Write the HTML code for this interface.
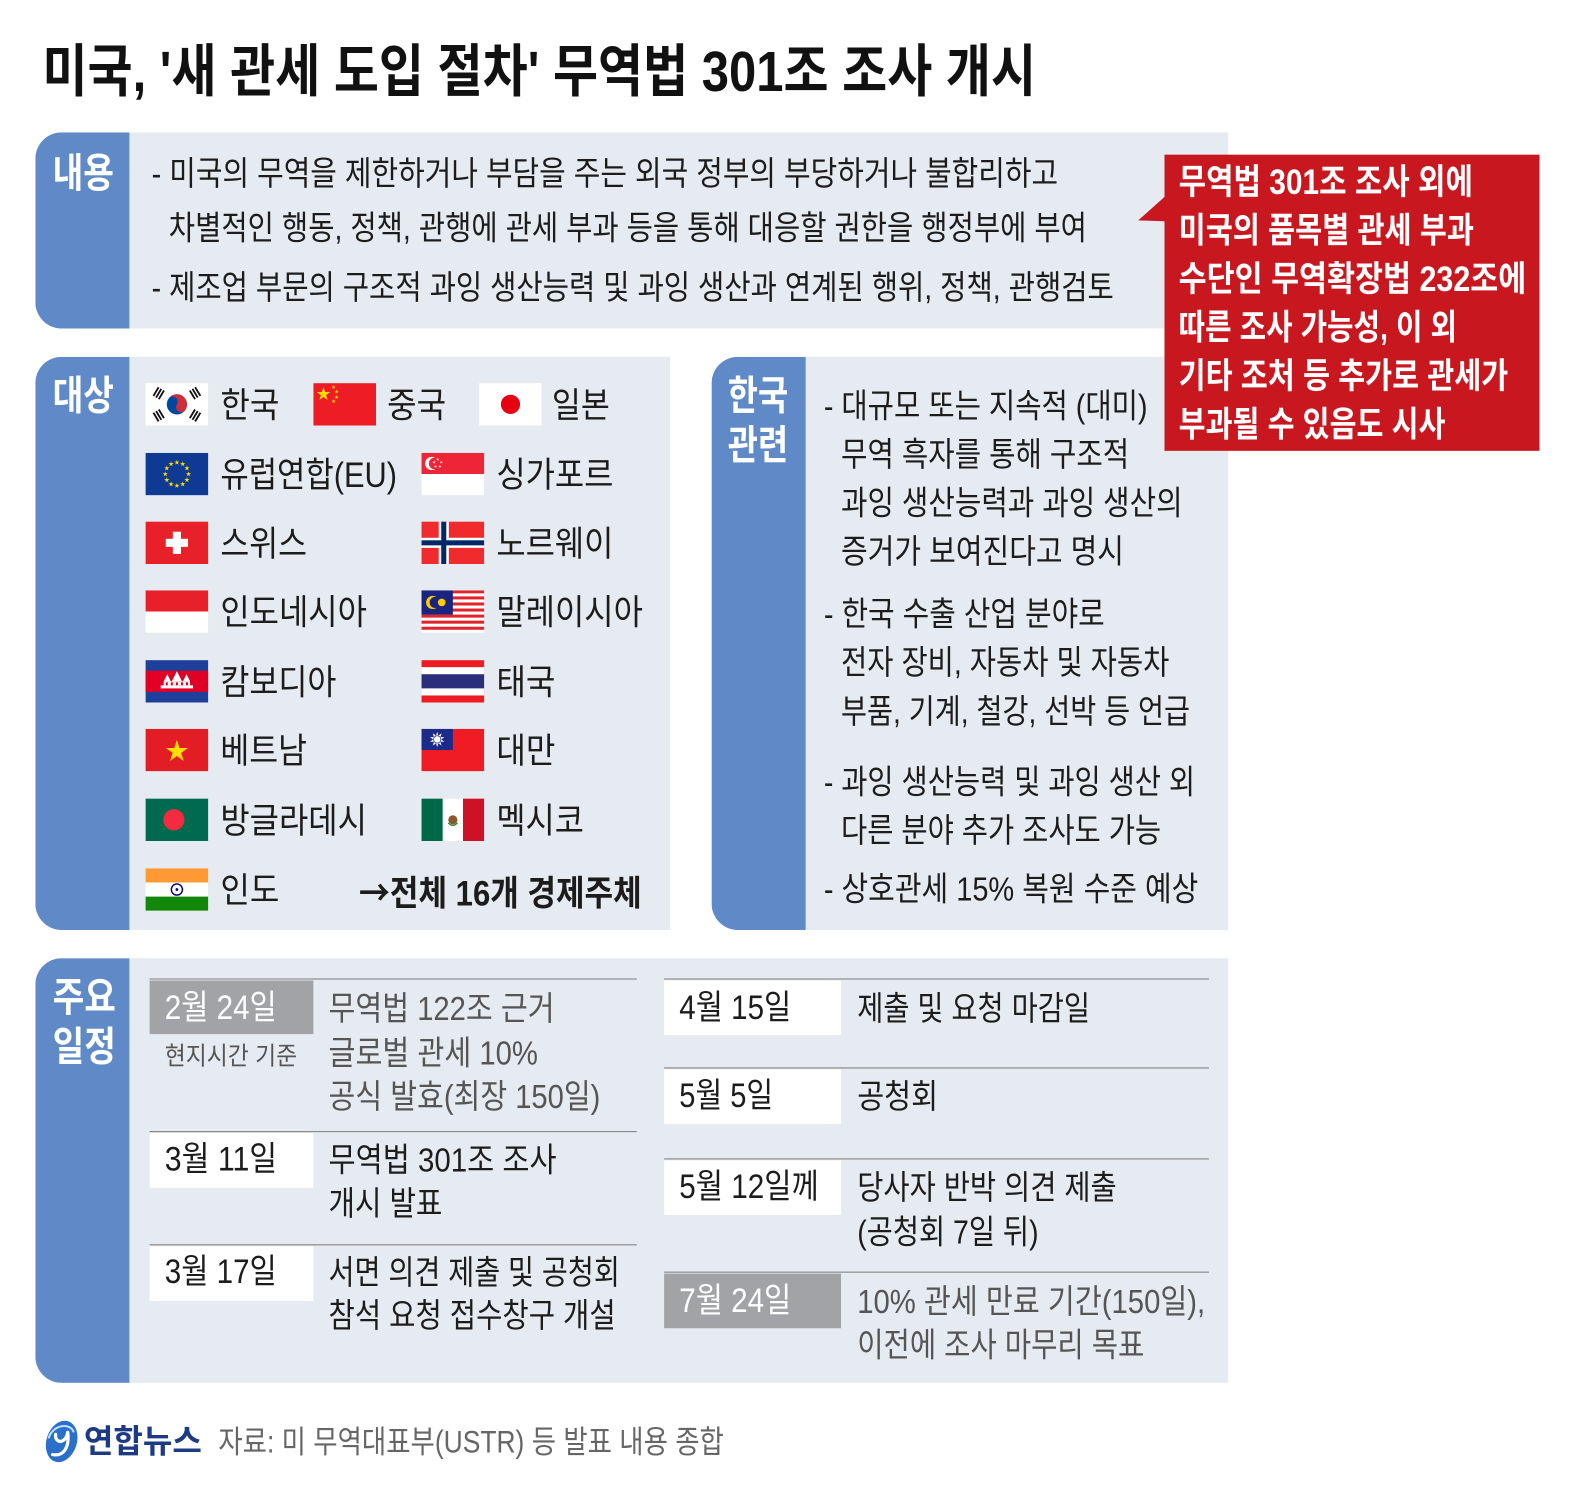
<!DOCTYPE html>
<html lang="ko"><head><meta charset="utf-8">
<style>
html,body{margin:0;padding:0;background:#fff;}
body{width:1585px;height:1497px;overflow:hidden;position:relative;}
#f{position:absolute;left:0;top:0;width:1568px;height:1481px;transform:scale(1.01084);transform-origin:0 0;}
.t{position:absolute;white-space:nowrap;line-height:1;transform-origin:0 50%;font-family:"Liberation Sans","Noto Sans CJK KR",sans-serif;color:#1c1c1c;transform:scaleX(0.85);}
.b{font-weight:700;}
.w{color:#fff;}
.g{color:#555;}
.box{position:absolute;background:#e6eaf1;border-radius:26px 0 0 26px;overflow:hidden;}
.tab{position:absolute;left:0;top:0;bottom:0;width:93px;background:#5f8ac7;}
.fl{position:absolute;width:62px;height:42px;}
.ln{position:absolute;height:0;border-top:1.5px solid #7b7b7b;}
.cell{position:absolute;background:#fff;}
.cg{background:#a2a3a7;}
.ar{font-family:"Noto Sans CJK KR",sans-serif;}
</style></head><body><div id="f">
<svg width="0" height="0" style="position:absolute"><defs><path id="st" d="M0,-1 L0.2245,-0.309 L0.951,-0.309 L0.363,0.118 L0.588,0.809 L0,0.382 L-0.588,0.809 L-0.363,0.118 L-0.951,-0.309 L-0.2245,-0.309Z"/></defs></svg>

<!-- Title -->
<div class="t b" style="left:42px;top:43px;font-size:56px;color:#111;--w:983px">미국, '새 관세 도입 절차' 무역법 301조 조사 개시</div>

<!-- Box 1 -->
<div class="box" style="left:35px;top:131px;width:1180px;height:194px"><div class="tab"></div></div>
<div class="t b w" style="left:52px;top:152px;font-size:40px;--w:61px">내용</div>
<div class="t" style="left:150px;top:154.5px;font-size:33px;--w:897px">- 미국의 무역을 제한하거나 부담을 주는 외국 정부의 부당하거나 불합리하고</div>
<div class="t" style="left:167px;top:208.5px;font-size:33px;--w:908px">차별적인 행동, 정책, 관행에 관세 부과 등을 통해 대응할 권한을 행정부에 부여</div>
<div class="t" style="left:150px;top:267.5px;font-size:33px;--w:952px">- 제조업 부문의 구조적 과잉 생산능력 및 과잉 생산과 연계된 행위, 정책, 관행검토</div>

<!-- Box 2 -->
<div class="box" style="left:35px;top:353px;width:628px;height:567px"><div class="tab"></div></div>
<div class="t b w" style="left:52px;top:372px;font-size:40px;--w:61px">대상</div>

<!-- Flags -->
<!-- Korea -->
<svg class="fl" style="left:144px;top:379px" viewBox="0 0 62 42"><rect width="62" height="42" fill="#fff"/>
<circle cx="31" cy="21" r="10" fill="#0047a0"/>
<path d="M21,21 A10,10 0 0 1 41,21 A5,5 0 0 1 31,21 A5,5 0 0 0 21,21Z" fill="#cd2e3a" transform="rotate(34 31 21)"/>
<g fill="#111">
<g transform="translate(13,10) rotate(-59)"><rect x="-5" y="-4" width="10" height="1.8"/><rect x="-5" y="-0.9" width="10" height="1.8"/><rect x="-5" y="2.2" width="10" height="1.8"/></g>
<g transform="translate(49,10) rotate(59)"><rect x="-5" y="-4" width="10" height="1.8"/><rect x="-5" y="-0.9" width="10" height="1.8"/><rect x="-5" y="2.2" width="10" height="1.8"/></g>
<g transform="translate(13,32) rotate(59)"><rect x="-5" y="-4" width="10" height="1.8"/><rect x="-5" y="-0.9" width="10" height="1.8"/><rect x="-5" y="2.2" width="10" height="1.8"/></g>
<g transform="translate(49,32) rotate(-59)"><rect x="-5" y="-4" width="10" height="1.8"/><rect x="-5" y="-0.9" width="10" height="1.8"/><rect x="-5" y="2.2" width="10" height="1.8"/></g>
</g></svg>
<!-- China -->
<svg class="fl" style="left:310px;top:379px" viewBox="0 0 62 42"><rect width="62" height="42" fill="#ee1c25"/>
<g fill="#ffde00"><use href="#st" transform="translate(10,11) scale(7)"/><use href="#st" transform="translate(20,4) scale(2.2)"/><use href="#st" transform="translate(23,8.5) scale(2.2)"/><use href="#st" transform="translate(23,14) scale(2.2)"/><use href="#st" transform="translate(20,18) scale(2.2)"/></g></svg>
<!-- Japan -->
<svg class="fl" style="left:474px;top:379px" viewBox="0 0 62 42"><rect width="62" height="42" fill="#fff"/><circle cx="31" cy="21" r="9.5" fill="#e60012"/></svg>

<!-- EU -->
<svg class="fl" style="left:144px;top:448px" viewBox="0 0 62 42"><rect width="62" height="42" fill="#0f3a94"/>
<g fill="#ffdd00">
<use href="#st" transform="translate(31,9.5) scale(2.7)"/><use href="#st" transform="translate(36.75,11.04) scale(2.7)"/><use href="#st" transform="translate(40.96,15.25) scale(2.7)"/><use href="#st" transform="translate(42.5,21) scale(2.7)"/><use href="#st" transform="translate(40.96,26.75) scale(2.7)"/><use href="#st" transform="translate(36.75,30.96) scale(2.7)"/><use href="#st" transform="translate(31,32.5) scale(2.7)"/><use href="#st" transform="translate(25.25,30.96) scale(2.7)"/><use href="#st" transform="translate(21.04,26.75) scale(2.7)"/><use href="#st" transform="translate(19.5,21) scale(2.7)"/><use href="#st" transform="translate(21.04,15.25) scale(2.7)"/><use href="#st" transform="translate(25.25,11.04) scale(2.7)"/>
</g></svg>
<!-- Singapore -->
<svg class="fl" style="left:417px;top:448px" viewBox="0 0 62 42"><rect width="62" height="21" fill="#ee2536"/><rect y="21" width="62" height="21" fill="#fff"/>
<circle cx="10" cy="10.5" r="6.5" fill="#fff"/><circle cx="12.8" cy="10.5" r="5.6" fill="#ee2536"/>
<g fill="#fff"><use href="#st" transform="translate(16,6.5) scale(1.6)"/><use href="#st" transform="translate(19.5,9.3) scale(1.6)"/><use href="#st" transform="translate(18.2,13.5) scale(1.6)"/><use href="#st" transform="translate(13.8,13.5) scale(1.6)"/><use href="#st" transform="translate(12.5,9.3) scale(1.6)"/></g></svg>

<!-- Switzerland -->
<svg class="fl" style="left:144px;top:516px" viewBox="0 0 62 42"><rect width="62" height="42" fill="#e8202a"/><rect x="27" y="10" width="8" height="22" fill="#fff"/><rect x="20" y="17" width="22" height="8" fill="#fff"/></svg>
<!-- Norway -->
<svg class="fl" style="left:417px;top:516px" viewBox="0 0 62 42"><rect width="62" height="42" fill="#ef2b2d"/><rect x="17" width="10" height="42" fill="#fff"/><rect y="16" width="62" height="10" fill="#fff"/><rect x="19.5" width="5" height="42" fill="#002868"/><rect y="18.5" width="62" height="5" fill="#002868"/></svg>

<!-- Indonesia -->
<svg class="fl" style="left:144px;top:584px" viewBox="0 0 62 42"><rect width="62" height="21" fill="#e7202a"/><rect y="21" width="62" height="21" fill="#fff"/></svg>
<!-- Malaysia -->
<svg class="fl" style="left:417px;top:584px" viewBox="0 0 62 42"><rect width="62" height="42" fill="#fff"/>
<g fill="#e2232a"><rect y="0" width="62" height="3"/><rect y="6" width="62" height="3"/><rect y="12" width="62" height="3"/><rect y="18" width="62" height="3"/><rect y="24" width="62" height="3"/><rect y="30" width="62" height="3"/><rect y="36" width="62" height="3"/></g>
<rect width="31" height="24" fill="#1a237e"/><circle cx="11" cy="12" r="6.5" fill="#fc0"/><circle cx="13.5" cy="12" r="5.5" fill="#1a237e"/><circle cx="20" cy="12" r="3.8" fill="#fc0"/></svg>

<!-- Cambodia -->
<svg class="fl" style="left:144px;top:653px" viewBox="0 0 62 42"><rect width="62" height="42" fill="#1f3f9a"/><rect y="10.5" width="62" height="21" fill="#e00025"/>
<g fill="#fff"><rect x="15" y="25" width="32" height="3"/><rect x="18" y="21" width="26" height="4"/><polygon points="18,21 21.5,14 25,21"/><polygon points="37,21 40.5,14 44,21"/><polygon points="26,21 31,11 36,21"/></g>
<g fill="#e00025"><rect x="20" y="22" width="2" height="3"/><rect x="25" y="22" width="2" height="3"/><rect x="30" y="22" width="2" height="3"/><rect x="35" y="22" width="2" height="3"/><rect x="40" y="22" width="2" height="3"/></g></svg>
<!-- Thailand -->
<svg class="fl" style="left:417px;top:653px" viewBox="0 0 62 42"><rect width="62" height="42" fill="#ed1c24"/><rect y="7" width="62" height="28" fill="#fff"/><rect y="14" width="62" height="14" fill="#2b2e7a"/></svg>

<!-- Vietnam -->
<svg class="fl" style="left:144px;top:721px" viewBox="0 0 62 42"><rect width="62" height="42" fill="#e21d25"/><use href="#st" transform="translate(31,22.5) scale(11.5)" fill="#ffde00"/></svg>
<!-- Taiwan -->
<svg class="fl" style="left:417px;top:721px" viewBox="0 0 62 42"><rect width="62" height="42" fill="#ef1c24"/><rect width="31" height="21" fill="#1c2a8a"/>
<g fill="#fff"><use href="#st" transform="translate(15.5,10.5) scale(7.5)"/><use href="#st" transform="translate(15.5,10.5) rotate(36) scale(7.5)"/></g><circle cx="15.5" cy="10.5" r="4" fill="#1c2a8a"/><circle cx="15.5" cy="10.5" r="3.3" fill="#fff"/></svg>

<!-- Bangladesh -->
<svg class="fl" style="left:144px;top:790px" viewBox="0 0 62 42"><rect width="62" height="42" fill="#006a4e"/><circle cx="28" cy="21" r="10.5" fill="#f42a41"/></svg>
<!-- Mexico -->
<svg class="fl" style="left:417px;top:790px" viewBox="0 0 62 42"><rect width="21" height="42" fill="#006847"/><rect x="21" width="20" height="42" fill="#fff"/><rect x="41" width="21" height="42" fill="#ce1126"/><circle cx="31" cy="21" r="4.5" fill="#8a5a2b"/><path d="M26.5,24 Q31,29 35.5,24" stroke="#2e7d32" stroke-width="1.4" fill="none"/></svg>

<!-- India -->
<svg class="fl" style="left:144px;top:859px" viewBox="0 0 62 42"><rect width="62" height="14" fill="#ff9933"/><rect y="14" width="62" height="14" fill="#fff"/><rect y="28" width="62" height="14" fill="#138808"/><circle cx="31" cy="21" r="5.5" fill="none" stroke="#000080" stroke-width="1.4"/><circle cx="31" cy="21" r="1.4" fill="#000080"/></svg>

<!-- Country names -->
<div class="t" style="left:218px;top:383.5px;font-size:35px;--w:58px">한국</div>
<div class="t" style="left:383px;top:383.5px;font-size:35px;--w:58px">중국</div>
<div class="t" style="left:546px;top:383.5px;font-size:35px;--w:57px">일본</div>
<div class="t" style="left:218px;top:452.5px;font-size:35px;--w:175px">유럽연합(EU)</div>
<div class="t" style="left:491px;top:452.5px;font-size:35px;--w:116px">싱가포르</div>
<div class="t" style="left:218px;top:520.5px;font-size:35px;--w:86px">스위스</div>
<div class="t" style="left:491px;top:520.5px;font-size:35px;--w:116px">노르웨이</div>
<div class="t" style="left:218px;top:588.5px;font-size:35px;--w:145px">인도네시아</div>
<div class="t" style="left:491px;top:588.5px;font-size:35px;--w:145px">말레이시아</div>
<div class="t" style="left:218px;top:657.5px;font-size:35px;--w:115px">캄보디아</div>
<div class="t" style="left:491px;top:657.5px;font-size:35px;--w:58px">태국</div>
<div class="t" style="left:218px;top:725.5px;font-size:35px;--w:86px">베트남</div>
<div class="t" style="left:491px;top:725.5px;font-size:35px;--w:58px">대만</div>
<div class="t" style="left:218px;top:794.5px;font-size:35px;--w:145px">방글라데시</div>
<div class="t" style="left:491px;top:794.5px;font-size:35px;--w:87px">멕시코</div>
<div class="t" style="left:218px;top:863.5px;font-size:35px;--w:58px">인도</div>
<div class="t b" style="left:355px;top:863.5px;font-size:35px;--w:280px"><span class="ar">→</span>전체 16개 경제주체</div>

<!-- Box 3 -->
<div class="box" style="left:704px;top:353px;width:511px;height:567px"><div class="tab"></div></div>
<div class="t b w" style="left:720px;top:372px;font-size:40px;--w:60px">한국</div>
<div class="t b w" style="left:720px;top:421px;font-size:40px;--w:60px">관련</div>
<div class="t" style="left:815px;top:384.5px;font-size:33px;--w:320px">- 대규모 또는 지속적 (대미)</div>
<div class="t" style="left:832px;top:432.5px;font-size:33px;--w:285px">무역 흑자를 통해 구조적</div>
<div class="t" style="left:832px;top:480.5px;font-size:33px;--w:338px">과잉 생산능력과 과잉 생산의</div>
<div class="t" style="left:832px;top:528.5px;font-size:33px;--w:280px">증거가 보여진다고 명시</div>
<div class="t" style="left:815px;top:590.5px;font-size:33px;--w:278px">- 한국 수출 산업 분야로</div>
<div class="t" style="left:832px;top:638.5px;font-size:33px;--w:325px">전자 장비, 자동차 및 자동차</div>
<div class="t" style="left:832px;top:686.5px;font-size:33px;--w:345px">부품, 기계, 철강, 선박 등 언급</div>
<div class="t" style="left:815px;top:756.5px;font-size:33px;--w:367px">- 과잉 생산능력 및 과잉 생산 외</div>
<div class="t" style="left:832px;top:804.5px;font-size:33px;--w:317px">다른 분야 추가 조사도 가능</div>
<div class="t" style="left:815px;top:862.5px;font-size:33px;--w:370px">- 상호관세 15% 복원 수준 예상</div>

<!-- Red callout -->
<svg style="position:absolute;left:0;top:0" width="1568" height="1481"><polygon points="1154,193 1126,218 1154,219" fill="#c8171f"/></svg>
<div style="position:absolute;left:1152px;top:153px;width:371px;height:293px;background:#c8171f"></div>
<div class="t b w" style="left:1166px;top:162.5px;font-size:35px;--w:291px">무역법 301조 조사 외에</div>
<div class="t b w" style="left:1166px;top:210.5px;font-size:35px;--w:292px">미국의 품목별 관세 부과</div>
<div class="t b w" style="left:1166px;top:258.5px;font-size:35px;--w:344px">수단인 무역확장법 232조에</div>
<div class="t b w" style="left:1166px;top:306.5px;font-size:35px;--w:275px">따른 조사 가능성, 이 외</div>
<div class="t b w" style="left:1166px;top:354.5px;font-size:35px;--w:326px">기타 조처 등 추가로 관세가</div>
<div class="t b w" style="left:1166px;top:402.5px;font-size:35px;--w:264px">부과될 수 있음도 시사</div>

<!-- Box 4 -->
<div class="box" style="left:35px;top:948px;width:1180px;height:420px"><div class="tab"></div></div>
<div class="t b w" style="left:52px;top:967px;font-size:40px;--w:63px">주요</div>
<div class="t b w" style="left:52px;top:1016px;font-size:40px;--w:63px">일정</div>

<!-- left table -->
<div class="ln" style="left:148px;top:968px;width:482px"></div>
<div class="ln" style="left:148px;top:1119px;width:482px"></div>
<div class="ln" style="left:148px;top:1231px;width:482px"></div>
<div class="cell cg" style="left:148px;top:970px;width:162px;height:53px"></div>
<div class="cell" style="left:148px;top:1121px;width:162px;height:54px"></div>
<div class="cell" style="left:148px;top:1233px;width:162px;height:54px"></div>
<div class="t w" style="left:163px;top:980px;font-size:34px;--w:111px">2월 24일</div>
<div class="t g" style="left:163px;top:1033px;font-size:25px;--w:131px">현지시간 기준</div>
<div class="t" style="left:163px;top:1130px;font-size:34px;--w:111px">3월 11일</div>
<div class="t" style="left:163px;top:1241px;font-size:34px;--w:111px">3월 17일</div>
<div class="t g" style="left:325px;top:980.5px;font-size:33px;--w:224px">무역법 122조 근거</div>
<div class="t g" style="left:325px;top:1024.5px;font-size:33px;--w:207px">글로벌 관세 10%</div>
<div class="t g" style="left:325px;top:1067.5px;font-size:33px;--w:269px">공식 발효(최장 150일)</div>
<div class="t" style="left:325px;top:1130.5px;font-size:33px;--w:226px">무역법 301조 조사</div>
<div class="t" style="left:325px;top:1173.5px;font-size:33px;--w:113px">개시 발표</div>
<div class="t" style="left:325px;top:1241.5px;font-size:33px;--w:288px">서면 의견 제출 및 공청회</div>
<div class="t" style="left:325px;top:1284.5px;font-size:33px;--w:284px">참석 요청 접수창구 개설</div>

<!-- right table -->
<div class="ln" style="left:657px;top:968px;width:539px"></div>
<div class="ln" style="left:657px;top:1056px;width:539px"></div>
<div class="ln" style="left:657px;top:1146px;width:539px"></div>
<div class="ln" style="left:657px;top:1258px;width:539px"></div>
<div class="cell" style="left:657px;top:970px;width:175px;height:54px"></div>
<div class="cell" style="left:657px;top:1058px;width:175px;height:54px"></div>
<div class="cell" style="left:657px;top:1148px;width:175px;height:54px"></div>
<div class="cell cg" style="left:657px;top:1260px;width:175px;height:54px"></div>
<div class="t" style="left:672px;top:980px;font-size:34px;--w:111px">4월 15일</div>
<div class="t" style="left:672px;top:1067px;font-size:34px;--w:93px">5월 5일</div>
<div class="t" style="left:672px;top:1157px;font-size:34px;--w:138px">5월 12일께</div>
<div class="t w" style="left:672px;top:1270px;font-size:34px;--w:111px">7월 24일</div>
<div class="t" style="left:848px;top:980.5px;font-size:33px;--w:230px">제출 및 요청 마감일</div>
<div class="t" style="left:848px;top:1067.5px;font-size:33px;--w:80px">공청회</div>
<div class="t" style="left:848px;top:1157.5px;font-size:33px;--w:257px">당사자 반박 의견 제출</div>
<div class="t" style="left:848px;top:1201.5px;font-size:33px;--w:179px">(공청회 7일 뒤)</div>
<div class="t g" style="left:848px;top:1270.5px;font-size:33px;--w:344px">10% 관세 만료 기간(150일),</div>
<div class="t g" style="left:848px;top:1313.5px;font-size:33px;--w:284px">이전에 조사 마무리 목표</div>

<!-- Footer -->
<svg style="position:absolute;left:40px;top:1403px" width="42" height="46" viewBox="0 0 42 46">
<ellipse cx="21" cy="23" rx="15" ry="21" transform="rotate(18 21 23)" fill="#2a6fc9"/>
<path d="M8,20 C12,6 30,4 33,14" stroke="#bfe0ff" stroke-width="2" fill="none"/>
<path d="M15,16 C14,25 25,26 27,14 M27,14 C29,30 22,38 12,36" stroke="#fff" stroke-width="3.2" fill="none" stroke-linecap="round"/>
</svg>
<div class="t b" style="left:83px;top:1410px;font-size:32px;color:#1d3b85;--w:117px">연합뉴스</div>
<div class="t" style="left:216px;top:1410.5px;font-size:31px;color:#666;--w:500px">자료: 미 무역대표부(USTR) 등 발표 내용 종합</div>

</div>
<script>
function fit(){
  var els=document.querySelectorAll('.t');
  for(var i=0;i<els.length;i++){
    var e=els[i];
    var w=parseFloat(getComputedStyle(e).getPropertyValue('--w'));
    var n=e.offsetWidth;
    if(w&&n>0){e.style.transform='scaleX('+(w/n)+')';}
  }
}
fit();
if(document.fonts&&document.fonts.ready){document.fonts.ready.then(fit);}
</script>
</body></html>
